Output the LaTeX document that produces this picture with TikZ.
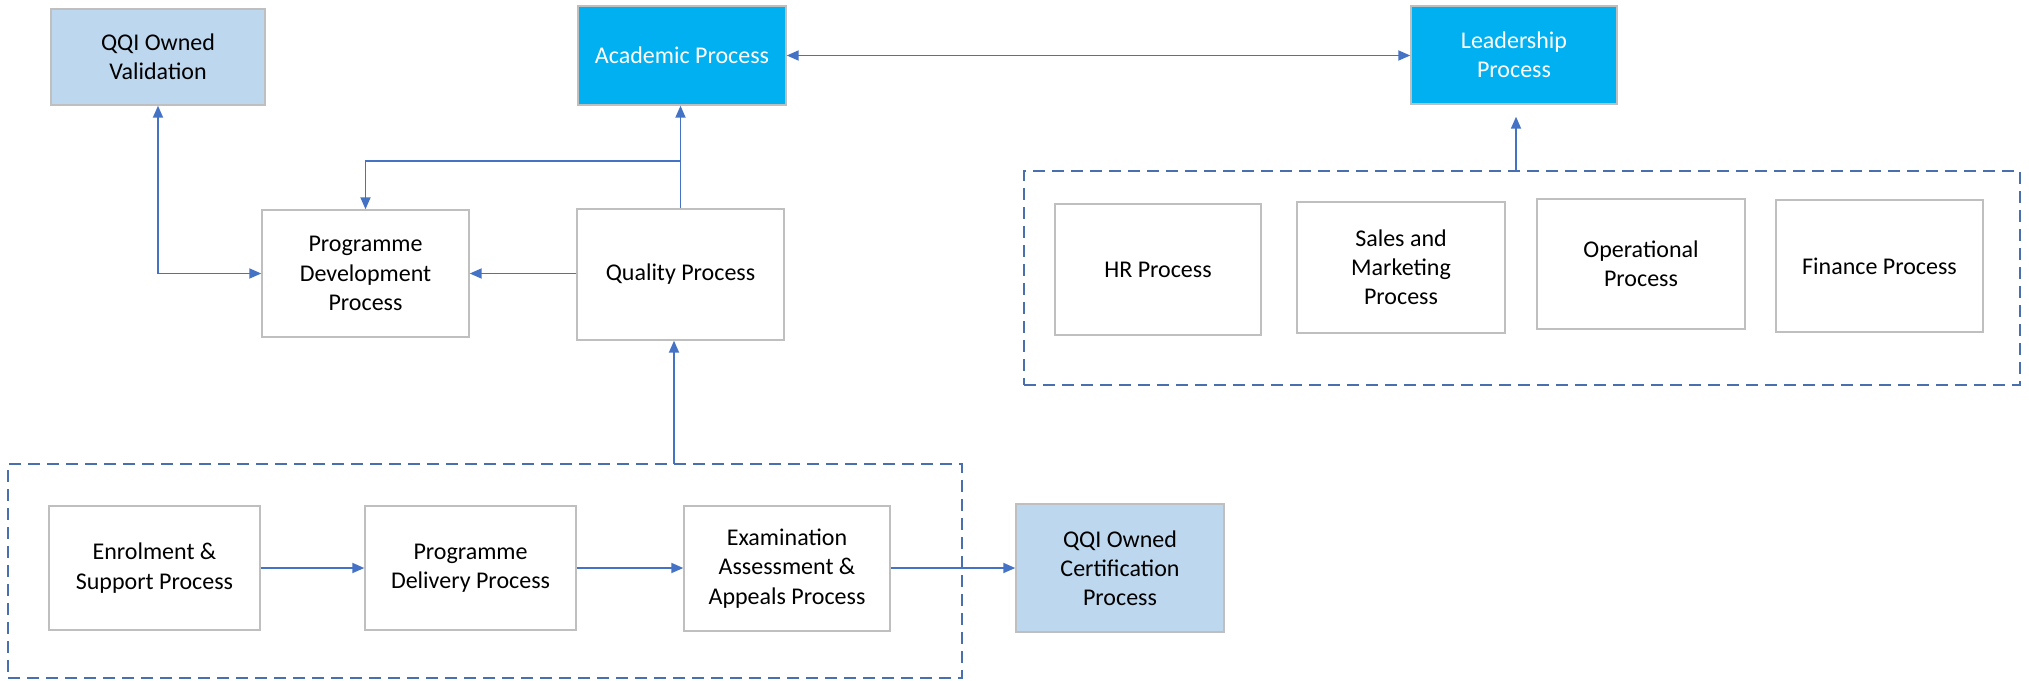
\documentclass[tikz,border=0pt]{standalone}
\usepackage{fontspec}
\setmainfont{Carlito}
\usetikzlibrary{arrows.meta}
\definecolor{linkblue}{HTML}{4472C4}
\definecolor{groupblue}{HTML}{4A6FAE}
\definecolor{edgegray}{HTML}{BFBFBF}
\definecolor{procblue}{HTML}{00B0F0}
\definecolor{qqiblue}{HTML}{BDD7EE}
\tikzset{
  box/.style={draw=edgegray, line width=0.7pt, fill=white, inner sep=0pt,
    align=center, font=\fontsize{12}{14.6}\selectfont},
  keybox/.style={box, fill=procblue, text=white},
  qqibox/.style={box, fill=qqiblue},
  group/.style={draw=groupblue, line width=0.9pt, dash pattern=on 6pt off 3.5pt, inner sep=0pt},
  link/.style={draw=linkblue, line width=0.9pt, -{Triangle[length=6pt,width=5pt]}},
  dlink/.style={link, {Triangle[length=6pt,width=5pt]}-{Triangle[length=6pt,width=5pt]}}
}
% \areanode{style}{name}{x1}{y1}{x2}{y2}{text}: a node spanning the given corners (units of 0.5pt)
\newcommand\areanode[7]{%
  \pgfmathsetmacro\anw{(#5-#3)*0.5}%
  \pgfmathsetmacro\anh{(#6-#4)*0.5}%
  \node[#1, minimum width=\anw pt, minimum height=\anh pt] (#2) at ({(#3+#5)/2},{(#4+#6)/2}) {#7};%
}
\begin{document}
\begin{tikzpicture}[x=0.5pt, y=-0.5pt]
\useasboundingbox (0,0) rectangle (2029,680);

% dashed groups
\areanode{group}{support}{1024}{171}{2020}{385}{}
\areanode{group}{delivery}{8}{464}{962}{678}{}

% top row
\areanode{qqibox}{val}{51}{9}{265}{105}{QQI Owned\\Validation}
\areanode{keybox}{acad}{578}{6}{786}{105}{Academic Process}
\areanode{keybox}{lead}{1411}{6}{1617}{104}{Leadership\\Process}

% middle row
\areanode{box}{pdev}{262}{210}{469}{337}{Programme\\Development\\Process}
\areanode{box}{qual}{577}{209}{784}{340}{Quality Process}

% support processes
\areanode{box}{hr}{1055}{204}{1261}{335}{HR Process}
\areanode{box}{sales}{1297}{202}{1505}{333}{Sales and\\Marketing\\Process}
\areanode{box}{oper}{1537}{199}{1745}{329}{Operational\\Process}
\areanode{box}{fin}{1776}{200}{1983}{332}{Finance Process}

% delivery chain
\areanode{box}{enrol}{49}{506}{260}{630}{Enrolment \&\\Support Process}
\areanode{box}{pdel}{365}{506}{576}{630}{Programme\\Delivery Process}
\areanode{box}{exam}{684}{506}{890}{631}{Examination\\Assessment \&\\Appeals Process}
\areanode{qqibox}{cert}{1016}{504}{1224}{632}{QQI Owned\\Certification\\Process}

% connectors
\draw[dlink] (acad.east) -- (acad.east -| lead.west);
\draw[link] (qual.north) -- (qual.north |- acad.south);
\coordinate (branch) at (681,161);
\draw[link] (branch) -| (pdev.north);
\draw[dlink] (val.south) |- (pdev.west);
\draw[link] (qual.west |- pdev.west) -- (pdev.east);

\coordinate (deltop) at (674,464);
\draw[link] (deltop) -- (deltop |- qual.south);
\coordinate (suptop) at (1516,171);
\draw[link, shorten >=6pt] (suptop) -- (suptop |- lead.south);

\coordinate (chain) at (0,568);
\draw[link] (enrol.east |- chain) -- (pdel.west |- chain);
\draw[link] (pdel.east |- chain) -- (exam.west |- chain);
\draw[link] (exam.east |- chain) -- (cert.west |- chain);
\end{tikzpicture}
\end{document}
